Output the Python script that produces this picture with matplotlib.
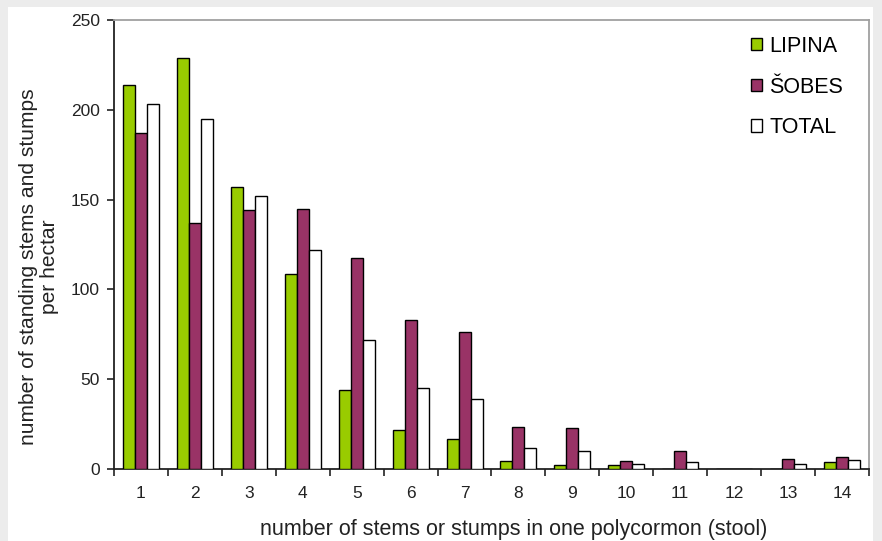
import matplotlib
matplotlib.use("Agg")
import matplotlib.pyplot as plt
import numpy as np
from matplotlib.patches import Rectangle

categories = ["1", "2", "3", "4", "5", "6", "7", "8", "9", "10", "11", "12", "13", "14"]
lipina = [214, 229, 157, 108.5, 44, 21.5, 16.5, 4.3, 2.4, 2.4, 0, 0, 0, 4.1]
sobes = [187, 137, 144, 145, 117.5, 83, 76.5, 23.4, 22.6, 4.3, 9.8, 0, 5.8, 6.5]
total = [203, 195, 152, 122, 72, 45, 39, 11.5, 10, 3, 4.1, 0, 2.8, 4.8]
series_names = ["LIPINA", "ŠOBES", "TOTAL"]
y_ticks = [0, 50, 100, 150, 200, 250]

plt.rcParams['font.family'] = ['Liberation Sans', 'DejaVu Sans']

W, H = 882, 541
fig = plt.figure(figsize=(W / 100, H / 100), dpi=100)
fig.patch.set_facecolor('#ececec')
bg = Rectangle((8 / W, 0), (873 - 8) / W, (H - 7) / H,
               transform=fig.transFigure, facecolor='white',
               edgecolor='none', zorder=-10)
fig.add_artist(bg)

ax_left, ax_right, ax_top, ax_bottom = 114, 869, 20, 469
ax = fig.add_axes([ax_left / W, 1 - ax_bottom / H, (ax_right - ax_left) / W, (ax_bottom - ax_top) / H])
ax.set_zorder(1)
ax.set_facecolor('white')

x = np.arange(1, len(categories) + 1)
w = 1 / 4.5
colors = ['#99cc00', '#993366', '#ffffff']
for i, (vals, name, c) in enumerate(zip([lipina, sobes, total], series_names, colors)):
    ax.bar(x + (i - 1) * w, vals, width=w, color=c, edgecolor='black', linewidth=1.0,
           label=name, zorder=3)

ax.set_xlim(0.5, len(categories) + 0.5)
ax.set_ylim(0, 250)
ax.set_yticks(y_ticks)
ax.set_yticklabels([str(v) for v in y_ticks], fontsize=12.5, color='#222222')
ax.set_xticks(x)
ax.set_xticklabels(categories, fontsize=12.5, color='#222222')
ax.tick_params(axis='x', which='major', length=0, pad=12)
ax.set_xticks(np.arange(0.5, len(categories) + 1, 1), minor=True)
ax.tick_params(axis='x', which='minor', length=5, width=1.2, direction='out', color='#222222')
ax.tick_params(axis='y', length=5, width=1.2, direction='out', pad=5, color='#222222')

for s in ['left', 'bottom']:
    ax.spines[s].set_color('#222222')
    ax.spines[s].set_linewidth(1.3)
for s in ['top', 'right']:
    ax.spines[s].set_color('#a0a0a0')
    ax.spines[s].set_linewidth(1.3)

fig.text(513.5 / W, 1 - 535 / H, "number of stems or stumps in one polycormon (stool)",
         fontsize=15.5, color='#222222', ha='center', va='baseline')
fig.text(39 / W, 1 - 267 / H, "number of standing stems and stumps\nper hectar",
         fontsize=15.1, color='#222222', ha='center', va='center', rotation=90,
         linespacing=1.1, multialignment='center')

leg = ax.legend(loc='upper right', bbox_to_anchor=((843 - 114) / 755, (469 - 36) / 449),
                frameon=False, fontsize=15.5,
                handlelength=0.5, handleheight=0.5, handletextpad=0.33, labelspacing=0.91,
                borderpad=0, borderaxespad=0)

fig.savefig('out.png', dpi=100, facecolor=fig.get_facecolor())
